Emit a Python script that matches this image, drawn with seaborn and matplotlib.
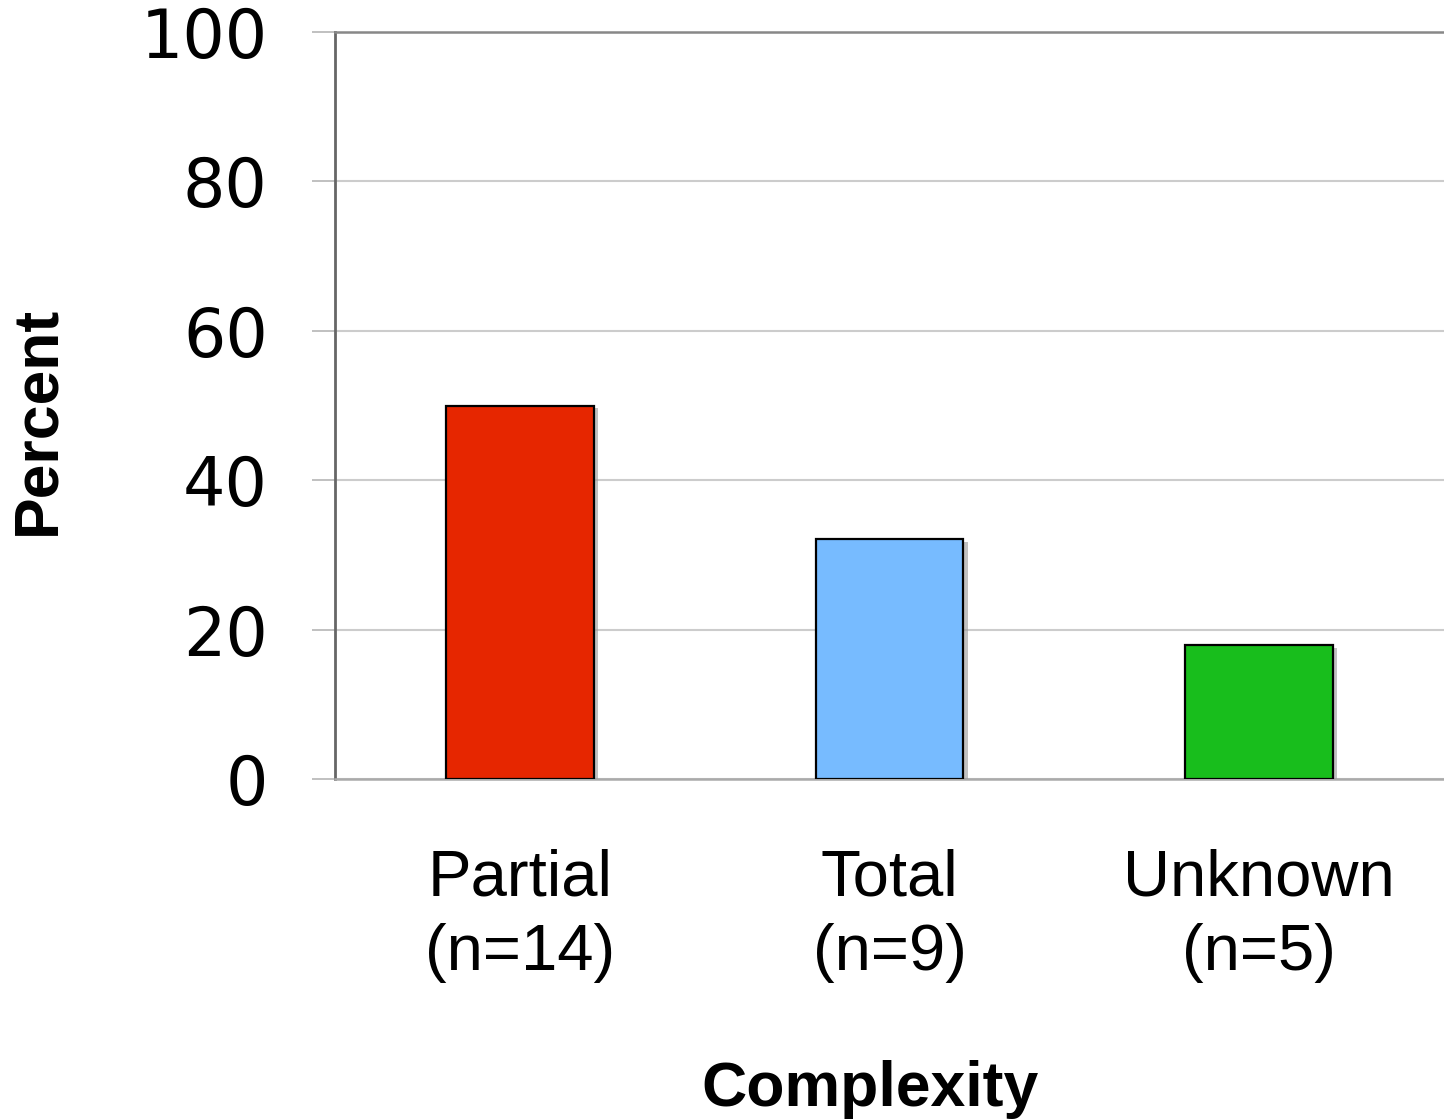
import matplotlib
matplotlib.use("Agg")
import matplotlib.pyplot as plt
import matplotlib.patheffects as pe
import seaborn as sns
import pandas as pd

categories = ["Partial\n(n=14)", "Total\n(n=9)", "Unknown\n(n=5)"]
percent = [50.0, 32.1, 17.9]
colors = ["#E62600", "#77BBFF", "#18BE1C"]
yticks = [0, 20, 40, 60, 80, 100]

sns.set_theme(style="white")
plt.rcParams['font.family'] = ['DejaVu Sans']
plt.rcParams['text.color'] = 'black'
plt.rcParams['xtick.color'] = 'black'
plt.rcParams['ytick.color'] = 'black'
plt.rcParams['axes.labelcolor'] = 'black'

df = pd.DataFrame({"Complexity": categories, "Percent": percent})

fig = plt.figure(figsize=(14.44, 11.19), dpi=100)
ax = fig.add_axes([335/1444, 1 - 779/1119, 1 - 335/1444, (779 - 32)/1119])

sns.barplot(data=df, x="Complexity", y="Percent", hue="Complexity",
            palette=colors, saturation=1, width=0.40, edgecolor="black",
            linewidth=1.6, legend=False, ax=ax, zorder=3)
for p in ax.patches:
    p.set_path_effects([pe.SimplePatchShadow(offset=(3, -2), shadow_rgbFace="#999999", alpha=0.6),
                        pe.Normal()])

ax.set_xlim(-0.5, 2.5)
ax.set_ylim(0, 100)
ax.set_yticks(yticks)
ax.set_yticklabels([str(v) for v in yticks], fontsize=48, family="DejaVu Sans")
ax.yaxis.grid(True, color="#cccccc", linewidth=1.5, zorder=0)
ax.set_axisbelow(True)

ax.tick_params(axis="y", which="major", left=True, length=16.5, width=1.3,
               color="#bbbbbb", labelcolor="black", pad=32)
ax.tick_params(axis="x", length=0, pad=50, labelcolor="black")
for lab in ax.get_xticklabels():
    lab.set_fontsize(47)
    lab.set_family("Liberation Sans")
    lab.set_linespacing(1.3)

ax.spines["right"].set_visible(False)
ax.spines["left"].set_color("#666666")
ax.spines["left"].set_linewidth(2)
ax.spines["top"].set_color("#888888")
ax.spines["top"].set_linewidth(1.8)
ax.spines["bottom"].set_color("#aaaaaa")
ax.spines["bottom"].set_linewidth(1.8)

ax.set_ylabel("Percent", fontsize=45, fontweight="bold", family="Liberation Sans",
              color="black")
ax.set_xlabel("Complexity", fontsize=45, fontweight="bold", family="Liberation Sans",
              color="black")
ax.yaxis.label.set_verticalalignment("bottom")
ax.yaxis.set_label_coords((67 - 335) / (1444 - 335), (779 - 420) / (779 - 32))
ax.xaxis.set_label_coords((870 - 335) / (1444 - 335), -(1060 - 779) / (779 - 32))

fig.savefig("out.png", dpi=100, facecolor="white")
